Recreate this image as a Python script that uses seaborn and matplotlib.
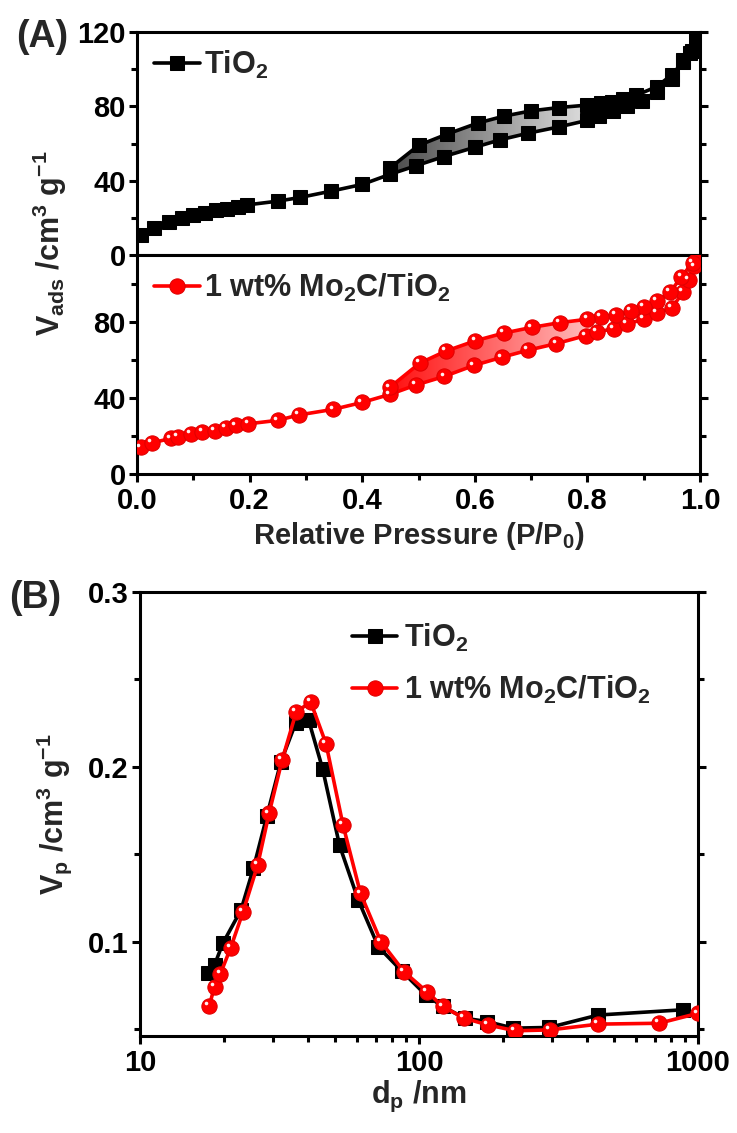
import numpy as np
import matplotlib
matplotlib.use("Agg")
import matplotlib.pyplot as plt
import seaborn as sns
from matplotlib.patches import Polygon
from matplotlib.colors import LinearSegmentedColormap
from matplotlib.transforms import offset_copy
from matplotlib.ticker import MultipleLocator, FixedLocator, LogLocator, NullFormatter, FixedFormatter

# ---------------- data ----------------
# Panel A, TiO2 isotherm
p_ads_tio2 = [0.007, 0.03, 0.056, 0.08, 0.10, 0.12, 0.14, 0.16, 0.18, 0.196, 0.25, 0.29, 0.345, 0.40,
              0.45, 0.495, 0.545, 0.60, 0.645, 0.695, 0.75, 0.80, 0.82, 0.845, 0.87, 0.897, 0.923,
              0.95, 0.97, 0.983, 0.993]
v_ads_tio2 = [10.9, 14.5, 18.0, 20.0, 21.4, 22.7, 24.0, 25.0, 26.0, 27.0, 29.0, 31.0, 34.4, 38.0,
              43.5, 48.0, 53.0, 58.0, 62.0, 65.6, 69.0, 72.5, 75.0, 77.6, 80.0, 83.0, 88.0,
              95.0, 105.0, 108.8, 116.0]
p_des_tio2 = [0.985, 0.97, 0.95, 0.923, 0.887, 0.864, 0.844, 0.824, 0.80, 0.75, 0.70, 0.651, 0.605,
              0.55, 0.50, 0.45]
v_des_tio2 = [110.0, 104.0, 97.0, 90.6, 86.0, 84.0, 82.5, 81.6, 80.7, 79.4, 77.6, 74.7, 71.0,
              65.0, 59.0, 47.0]

# Panel A, 1 wt% Mo2C/TiO2 isotherm
p_ads_mo2c = [0.007, 0.027, 0.06, 0.073, 0.096, 0.116, 0.138, 0.158, 0.176, 0.198, 0.25, 0.287, 0.349,
              0.40, 0.449, 0.495, 0.546, 0.598, 0.648, 0.694, 0.745, 0.797, 0.817, 0.847, 0.87, 0.90,
              0.924, 0.95, 0.97, 0.98, 0.99, 0.997]
v_ads_mo2c = [14.0, 16.4, 18.7, 19.5, 21.0, 22.2, 22.7, 24.2, 25.5, 26.4, 28.2, 31.0, 34.0,
              37.6, 41.8, 46.7, 51.3, 57.0, 61.3, 65.0, 68.5, 72.7, 74.5, 76.4, 78.7, 81.3,
              84.5, 87.3, 95.5, 101.8, 109.0, 115.0]
p_des_mo2c = [0.987, 0.967, 0.947, 0.924, 0.90, 0.877, 0.85, 0.824, 0.80, 0.751, 0.701, 0.651, 0.601,
              0.548, 0.502, 0.449]
v_des_mo2c = [111.0, 103.6, 95.5, 91.0, 87.8, 85.5, 83.6, 82.4, 81.3, 79.5, 77.0, 74.0, 70.0,
              64.5, 58.2, 45.5]

# Panel B, pore size distribution
d_tio2 = [17.5, 18.5, 19.8, 23.0, 25.5, 28.5, 32.0, 36.1, 40.2, 45.1, 51.9, 60.5, 71.5, 86.9,
          105.7, 121.6, 145.8, 174.8, 218, 293, 439, 882]
vp_tio2 = [0.0819, 0.0867, 0.099, 0.118, 0.142, 0.172, 0.203, 0.2248, 0.2267, 0.199, 0.155, 0.124,
           0.097, 0.083, 0.0695, 0.0629, 0.0562, 0.0543, 0.0505, 0.0509, 0.058, 0.061]
d_mo2c = [17.7, 18.5, 19.4, 21.1, 23.4, 26.4, 29.0, 32.3, 36.3, 40.9, 46.4, 53.4, 61.7, 73.0, 88.2,
          106.6, 121.6, 145, 176, 221, 295, 439, 725, 1000]
vp_mo2c = [0.0632, 0.0743, 0.0815, 0.0962, 0.117, 0.1438, 0.1733, 0.2038, 0.2314, 0.2371, 0.2133,
           0.1667, 0.1276, 0.100, 0.0829, 0.0714, 0.0629, 0.0562, 0.0524, 0.049, 0.0495, 0.0528,
           0.0533, 0.0590]

label_tio2 = "TiO$_2$"
label_mo2c = "1 wt% Mo$_2$C/TiO$_2$"

# ---------------- style ----------------
sns.set_theme(style="ticks")
FAM = ["Liberation Sans Narrow", "Liberation Sans", "DejaVu Sans"]
FS = 21
plt.rcParams.update({
    "font.family": FAM,
    "font.weight": "bold",
    "axes.labelweight": "bold",
    "mathtext.default": "regular",
    "axes.linewidth": 2.2,
    "xtick.major.width": 2.2, "ytick.major.width": 2.2,
    "xtick.minor.width": 2.2, "ytick.minor.width": 2.2,
    "xtick.major.size": 6, "ytick.major.size": 6,
    "xtick.minor.size": 4, "ytick.minor.size": 4,
    "xtick.major.pad": 3, "ytick.major.pad": 2,
    "xtick.direction": "out", "ytick.direction": "out",
    "xtick.labelsize": FS, "ytick.labelsize": FS,
    "xtick.color": "black", "ytick.color": "black",
    "axes.edgecolor": "black",
})

RED = "#ff0000"
LW = 2.6
fig = plt.figure(figsize=(7.37, 11.33), dpi=100)
axA1 = fig.add_axes([0.1859, 0.7749, 0.7639, 0.1968])
axA2 = fig.add_axes([0.1859, 0.5816, 0.7639, 0.1933])
axB = fig.add_axes([0.1900, 0.0856, 0.7571, 0.3919])


def grad_fill(ax, p_lo, v_lo, p_hi, v_hi, colors, lo, hi, ytop):
    a = [(p, v) for p, v in zip(p_lo, v_lo) if lo <= p <= hi]
    b = [(p, v) for p, v in zip(p_hi, v_hi) if lo <= p <= hi]
    poly = Polygon(a + b, closed=True, fc="none", ec="none")
    ax.add_patch(poly)
    cmap = LinearSegmentedColormap.from_list("g", colors)
    grad = np.linspace(0, 1, 256).reshape(1, -1)
    im = ax.imshow(grad, extent=[lo, hi, 0, ytop], aspect="auto", cmap=cmap,
                   origin="lower", zorder=1, interpolation="bilinear")
    im.set_clip_path(poly)


def highlight(ax, x, y, ms=2.6):
    tr = offset_copy(ax.transData, fig=fig, x=-2.0, y=2.0, units="points")
    ax.plot(x, y, ls="none", marker="o", ms=ms, mfc="#fff0f0", mec="none",
            transform=tr, zorder=5, clip_on=True)


def style_axes(ax):
    ax.tick_params(which="both", right=True, top=False, labelright=False)
    for s in ax.spines.values():
        s.set_linewidth(2.2)
        s.set_color("black")
    for lab in ax.get_xticklabels() + ax.get_yticklabels():
        lab.set_fontweight("bold")


LEG = {"size": FS + 1, "weight": "bold", "family": FAM}

# ---------------- Panel A top: TiO2 ----------------
grad_fill(axA1, p_ads_tio2, v_ads_tio2, p_des_tio2, v_des_tio2,
          ["#4a4a4a", "#9a9a9a", "#e6e6e6"], 0.449, 0.82, 120)
x1 = p_ads_tio2 + p_des_tio2
y1 = v_ads_tio2 + v_des_tio2
sns.lineplot(x=x1, y=y1, sort=False, estimator=None, ax=axA1, color="black", lw=LW,
             marker="s", markersize=10.5, markeredgecolor="black", zorder=3, label=label_tio2)
axA1.set_xlim(0, 1.0)
axA1.set_ylim(0, 120)
axA1.yaxis.set_major_locator(FixedLocator([0, 40, 80, 120]))
axA1.yaxis.set_minor_locator(FixedLocator([20, 60, 100]))
axA1.xaxis.set_major_locator(MultipleLocator(0.2))
axA1.tick_params(axis="x", which="both", bottom=False, labelbottom=False)
axA1.set_xlabel("")
axA1.set_ylabel("")
style_axes(axA1)
axA1.legend(loc="upper left", frameon=False, handlelength=1.5, handletextpad=0.15,
            borderaxespad=0.15, prop=LEG)

# ---------------- Panel A bottom: Mo2C/TiO2 ----------------
grad_fill(axA2, p_ads_mo2c, v_ads_mo2c, p_des_mo2c, v_des_mo2c,
          ["#ff1010", "#ff6a6a", "#ffc4c4"], 0.449, 0.82, 115)
x2 = p_ads_mo2c + p_des_mo2c
y2 = v_ads_mo2c + v_des_mo2c
sns.lineplot(x=x2, y=y2, sort=False, estimator=None, ax=axA2, color=RED, lw=LW,
             marker="o", markersize=11, markeredgecolor="#e00000", zorder=3, label=label_mo2c)
highlight(axA2, x2, y2)
axA2.set_xlim(0, 1.0)
axA2.set_ylim(0, 115)
axA2.yaxis.set_major_locator(FixedLocator([0, 40, 80]))
axA2.yaxis.set_minor_locator(FixedLocator([20, 60, 100]))
axA2.xaxis.set_major_locator(MultipleLocator(0.2))
axA2.xaxis.set_minor_locator(MultipleLocator(0.1))
axA2.xaxis.set_major_formatter(matplotlib.ticker.FormatStrFormatter("%.1f"))
axA2.set_xlabel("Relative Pressure (P/P$_0$)", fontsize=FS, fontweight="bold", labelpad=4)
axA2.set_ylabel("")
style_axes(axA2)
axA2.legend(loc="upper left", frameon=False, handlelength=1.5, handletextpad=0.15,
            borderaxespad=0.15, prop=LEG)

# ---------------- Panel B ----------------
sns.lineplot(x=d_tio2, y=vp_tio2, sort=False, estimator=None, ax=axB, color="black", lw=LW,
             marker="s", markersize=10.5, markeredgecolor="black", zorder=3, label=label_tio2)
sns.lineplot(x=d_mo2c, y=vp_mo2c, sort=False, estimator=None, ax=axB, color=RED, lw=LW,
             marker="o", markersize=11, markeredgecolor="#e00000", zorder=4, label=label_mo2c)
highlight(axB, d_mo2c, vp_mo2c)
axB.set_xscale("log")
axB.set_xlim(10, 1000)
axB.set_ylim(0.046, 0.3)
axB.xaxis.set_major_locator(FixedLocator([10, 100, 1000]))
axB.xaxis.set_major_formatter(FixedFormatter(["10", "100", "1000"]))
axB.xaxis.set_minor_locator(LogLocator(base=10, subs=np.arange(2, 10)))
axB.xaxis.set_minor_formatter(NullFormatter())
axB.yaxis.set_major_locator(FixedLocator([0.1, 0.2, 0.3]))
axB.yaxis.set_minor_locator(FixedLocator([0.05, 0.15, 0.25]))
axB.set_xlabel("d$_p$ /nm", fontsize=FS + 1, fontweight="bold", labelpad=2)
axB.set_ylabel("V$_p$ /cm$^3$ g$^{-1}$", fontsize=FS + 1, fontweight="bold", labelpad=10)
style_axes(axB)
axB.legend(loc="upper left", bbox_to_anchor=(0.33, 0.995), frameon=False, handlelength=1.5,
           handletextpad=0.2, labelspacing=0.65, prop=LEG)

# shared y label for panel A
fig.text(0.068, 0.785, "V$_{ads}$ /cm$^3$ g$^{-1}$", rotation=90, ha="center", va="center",
         fontsize=FS + 1, fontweight="bold", family=FAM)
fig.text(0.022, 0.983, "(A)", fontsize=27, fontweight="bold", family=FAM, va="top")
fig.text(0.012, 0.488, "(B)", fontsize=27, fontweight="bold", family=FAM, va="top")

fig.savefig("out.png", dpi=100)
